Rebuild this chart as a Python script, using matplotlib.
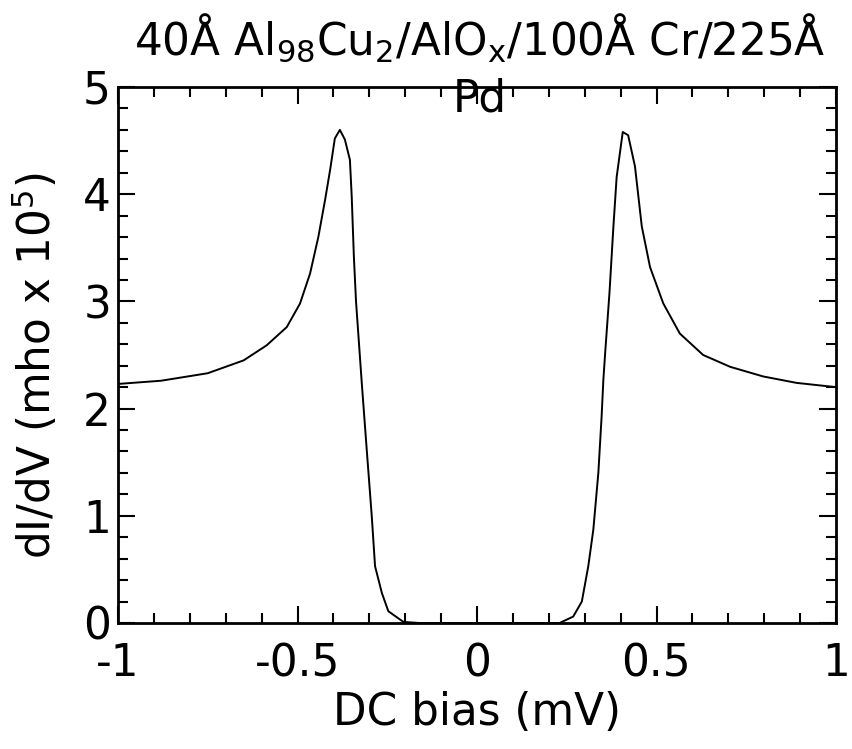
import matplotlib
matplotlib.use("Agg")
import matplotlib.pyplot as plt
from matplotlib.ticker import MultipleLocator

plt.rcParams['font.family'] = ['DejaVu Sans']
plt.rcParams['mathtext.fontset'] = 'dejavusans'

bias_mV = [-1.0, -0.88, -0.75, -0.65, -0.586, -0.53, -0.493, -0.465, -0.442, -0.423,
           -0.409, -0.396, -0.382, -0.368, -0.354, -0.349, -0.343, -0.337, -0.321, -0.307,
           -0.293, -0.284, -0.265, -0.247, -0.205, -0.16, 0.0, 0.2,
           0.23, 0.268, 0.292, 0.310, 0.324, 0.338, 0.347, 0.352, 0.357, 0.369,
           0.380, 0.389, 0.406, 0.421, 0.440, 0.459, 0.482, 0.519, 0.565, 0.630,
           0.705, 0.797, 0.890, 1.0]
dIdV = [2.23, 2.26, 2.33, 2.45, 2.59, 2.76, 2.98, 3.26, 3.60, 3.95,
        4.23, 4.52, 4.60, 4.51, 4.32, 3.98, 3.42, 3.00, 2.24, 1.61,
        0.99, 0.53, 0.28, 0.11, 0.01, 0.0, 0.0, 0.0,
        0.0, 0.06, 0.20, 0.53, 0.87, 1.40, 1.92, 2.27, 2.52, 3.08,
        3.70, 4.16, 4.58, 4.55, 4.26, 3.70, 3.32, 2.98, 2.70, 2.50,
        2.39, 2.30, 2.24, 2.20]

title_line1 = r"40Å Al$_{98}$Cu$_2$/AlO$_\mathrm{x}$/100Å Cr/225Å"
title_line2 = "Pd"
xlabel = "DC bias (mV)"
ylabel = r"dI/dV (mho x 10$^5$)"
xticks = [-1, -0.5, 0, 0.5, 1]
xticklabels = ["-1", "-0.5", "0", "0.5", "1"]
yticks = [0, 1, 2, 3, 4, 5]

FS = 31.5
W, H = 852, 749
fig = plt.figure(figsize=(W/100, H/100), dpi=100)
ax = fig.add_axes([118/W, 1-623/H, (836-118)/W, (623-87)/H])
ax.plot(bias_mV, dIdV, color='black', lw=1.4)
ax.set_xlim(-1, 1)
ax.set_ylim(0, 5)
ax.set_xticks(xticks)
ax.set_xticklabels(xticklabels)
ax.set_yticks(yticks)
ax.xaxis.set_minor_locator(MultipleLocator(0.1))
ax.yaxis.set_minor_locator(MultipleLocator(0.2))
ax.tick_params(which='both', direction='in', top=True, right=True, width=1.5, labelsize=FS)
ax.tick_params(which='major', length=12)
ax.tick_params(which='minor', length=7)
ax.tick_params(axis='x', which='major', pad=14)
ax.tick_params(axis='y', which='major', pad=5)
for s in ax.spines.values():
    s.set_linewidth(2)
ax.set_xlabel(xlabel, fontsize=FS)
ax.set_ylabel(ylabel, fontsize=FS)
ax.xaxis.set_label_coords(0.5, -(691-623)/(623-87))
ax.yaxis.set_label_coords(-(118-60)/(836-118), 0.48)

fig.text(480/W, 1-55/H, title_line1, fontsize=FS, ha='center', va='baseline')
fig.text(480/W, 1-111/H, title_line2, fontsize=FS, ha='center', va='baseline')

fig.savefig("out.png", dpi=100)
